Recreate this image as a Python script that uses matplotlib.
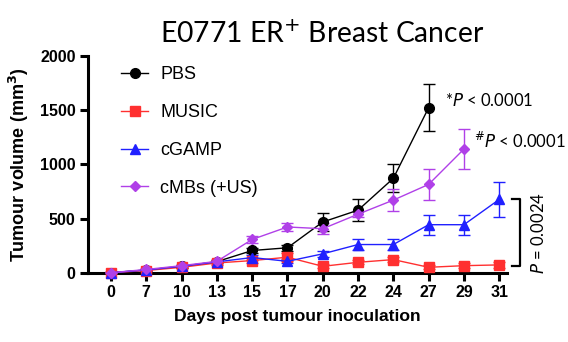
import matplotlib
matplotlib.use("Agg")
import matplotlib.pyplot as plt
import numpy as np

days = ["0", "7", "10", "13", "15", "17", "20", "22", "24", "27", "29", "31"]

pbs = [0, 25, 58, 102, 205, 230, 468, 577, 871, 1523]
pbs_err = [5, 8, 10, 15, 25, 30, 85, 100, 130, 215]

music = [0, 20, 50, 90, 112, 143, 59, 96, 121, 50, 65, 72]
music_err = [5, 8, 10, 15, 25, 35, 20, 20, 25, 20, 20, 30]

cgamp = [0, 25, 60, 100, 140, 105, 174, 260, 260, 443, 443, 676]
cgamp_err = [5, 8, 10, 15, 25, 20, 30, 55, 55, 93, 93, 164]

cmbs = [0, 30, 65, 105, 307, 422, 406, 540, 670, 815, 1141]
cmbs_err = [5, 8, 10, 15, 30, 40, 50, 25, 100, 140, 186]

series = [
    ("PBS", pbs, pbs_err, "black", "o", 7),
    ("MUSIC", music, music_err, "#ff3030", "s", 6.5),
    ("cGAMP", cgamp, cgamp_err, "#2020ff", "^", 7),
    ("cMBs (+US)", cmbs, cmbs_err, "#b040e8", "D", 5.5),
]

fig = plt.figure(figsize=(5.68, 3.42), dpi=100)
ax = fig.add_axes([0.155, 0.2026, 0.7376, 0.6337])

x_all = np.arange(len(days))
handles = []
for name, vals, errs, col, mk, ms in series:
    x = x_all[:len(vals)]
    ax.errorbar(x, vals, yerr=errs, color=col, marker=mk, markersize=ms,
                linewidth=1.0, elinewidth=1.0, capsize=4, capthick=1.0,
                clip_on=False, zorder=3)
    h, = ax.plot([], [], color=col, marker=mk, markersize=ms, linewidth=1.0, label=name)
    handles.append(h)

ax.set_xlim(-0.65, 11.22)
ax.set_ylim(0, 2000)
ax.set_xticks(x_all)
ax.set_xticklabels(days)
ax.set_yticks([0, 500, 1000, 1500, 2000])
for s in ["top", "right"]:
    ax.spines[s].set_visible(False)
for s in ["left", "bottom"]:
    ax.spines[s].set_linewidth(2.2)
ax.tick_params(axis="both", width=2.2, length=6, labelsize=11.5, pad=3)
for lab in ax.get_xticklabels() + ax.get_yticklabels():
    lab.set_fontweight("bold")
    lab.set_family("Liberation Sans")

ax.set_xlabel("Days post tumour inoculation", fontsize=12.6, fontweight="bold",
              family="Liberation Sans", labelpad=6)
ax.set_ylabel("Tumour volume (mm$^{\\mathbf{3}}$)", fontsize=13, fontweight="bold",
              family="Liberation Sans", labelpad=6)

leg = ax.legend(handles=handles, loc="upper left", bbox_to_anchor=(0.04, 1.027),
                frameon=False, prop={"family": "Liberation Sans", "size": 13},
                labelspacing=1.15, handlelength=1.5, handletextpad=0.67)

fig.text(0.567, 0.9, "E0771 ER$^{+}$ Breast Cancer", ha="center", va="center",
         fontsize=20.3, family="Lato")

ax.text(9.45, 1590, "*$\\it{P}$ < 0.0001", fontsize=12, family="Lato", va="center")
ax.text(10.28, 1215, "$^{\\#}$$\\it{P}$ < 0.0001", fontsize=12, family="Lato", va="center")

# bracket
ax.plot([11.37, 11.6, 11.6, 11.37], [676, 676, 62, 62], color="black",
        linewidth=1.6, clip_on=False)
ax.text(12.1, 369, "$\\it{P}$ = 0.0024", rotation=90, ha="center", va="center",
        fontsize=12, family="Lato")

fig.savefig("out.png", dpi=100)
